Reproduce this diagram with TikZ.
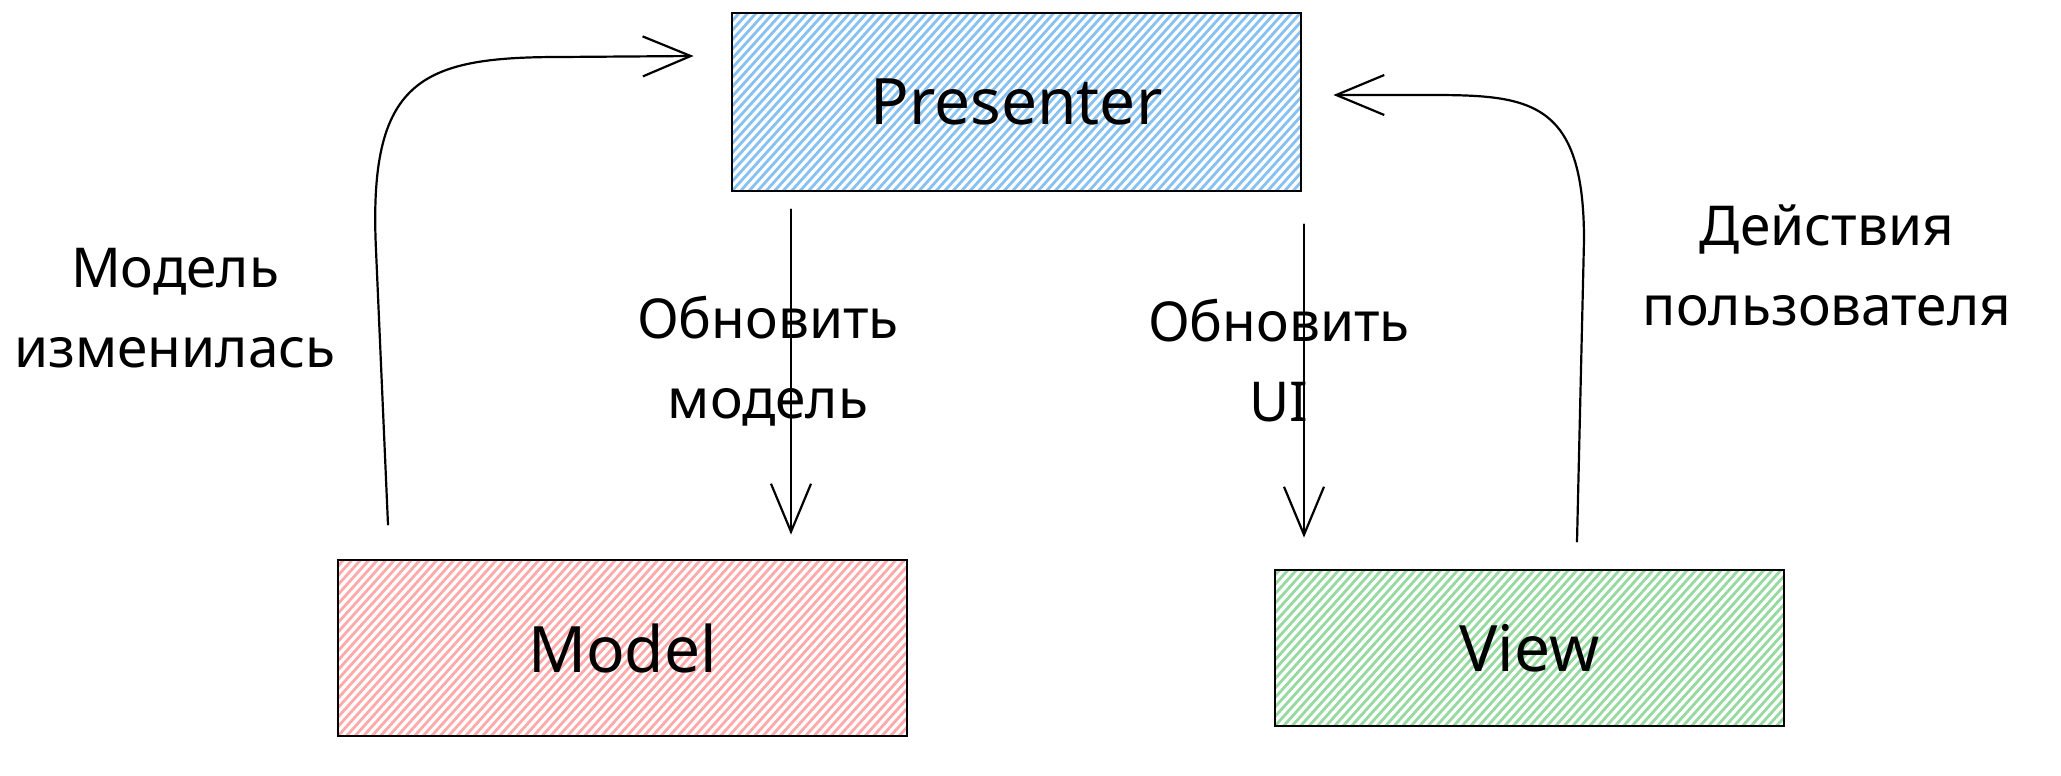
\documentclass[tikz,border=0pt]{standalone}
\usepackage{fontspec}
\setmainfont{Noto Sans}
\usetikzlibrary{arrows.meta}
\definecolor{hblue}{RGB}{135,193,242}
\definecolor{hred}{RGB}{255,170,170}
\definecolor{hgreen}{RGB}{150,218,160}
\begin{document}
\begin{tikzpicture}[x=1pt,y=-1pt,
  box/.style={draw=black, line width=2.8pt, rectangle, inner sep=0pt, font=\fontsize{64}{68}\selectfont},
  hatch/.style={path picture={\foreach \k in {0,...,95}{\draw[#1, line width=2.8pt] ([xshift=\k*8.5pt-170pt]path picture bounding box.south west) -- ++(48:320pt);}}},
  lbl/.style={align=center, font=\fontsize{55}{80}\selectfont},
  conn/.style={line width=2.2pt, line cap=round, -{Straight Barb[length=48pt,width=40pt,line width=2.2pt]}}]
\useasboundingbox[fill=white] (0,0) rectangle (2061,776);
\node[box, minimum width=569pt, minimum height=178pt, hatch=hblue] (P) at (1016.5,102) {Presenter};
\node[box, minimum width=569pt, minimum height=176pt, hatch=hred] (M) at (622.5,648) {Model};
\node[box, minimum width=509pt, minimum height=156pt, hatch=hgreen] (V) at (1529.5,648) {View};
\node[lbl] (l1) at (175,308) {Модель\\изменилась};
\node[lbl] (l2) at (768,361) {Обновить\\модель};
\node[lbl] (l3) at (1279,361) {Обновить\\UI};
\node[lbl] (l4) at (1827,265) {Действия\\пользователя};
\draw[conn] ([xshift=-225.5pt,yshift=-17pt]P.south) -- ([xshift=168.5pt,yshift=24pt]M.north);
\draw[conn] ([xshift=287.5pt,yshift=-32pt]P.south) -- ([xshift=-225.5pt,yshift=31pt]V.north);
\draw[conn] ([xshift=-234.5pt,yshift=34pt]M.north) -- (376,250) .. controls (368,80) and (420,57) .. (560,57) -- ([xshift=-37pt,yshift=46pt]P.west);
\draw[conn] ([xshift=47.5pt,yshift=27pt]V.north) -- (1584,240) .. controls (1584,100) and (1530,95) .. (1430,95) -- ([xshift=31pt,yshift=7pt]P.east);
\end{tikzpicture}
\end{document}
